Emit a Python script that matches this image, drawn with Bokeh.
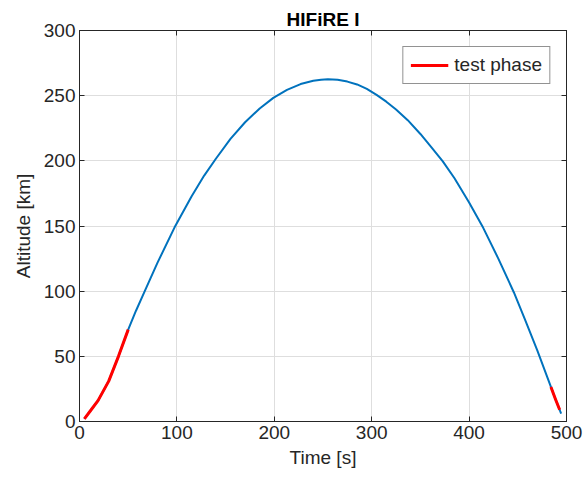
from bokeh.plotting import figure
from bokeh.models import LinearAxis, Range1d, FixedTicker, Legend, LegendItem, BoxAnnotation
from bokeh.embed import file_html
from bokeh.resources import INLINE

# Trajectory
time_s = [5, 12, 19, 30, 40, 50, 58, 67, 80, 97.5, 115, 128, 140, 155, 170, 185, 199,
          213, 227, 240, 248, 255, 265, 275, 285, 295, 305, 315, 325, 337, 350, 362,
          373, 385, 400, 414.5, 430, 446, 457, 470, 484, 489, 494.5]
altitude_km = [2, 9, 16, 31, 50, 70.5, 85, 100, 121.7, 148.8, 172.7, 188.7, 201.6, 216.8,
               229.6, 240.2, 248.3, 254.5, 258.9, 261.5, 262.3, 262.6, 262.2, 260.8, 258.6,
               255.2, 250.6, 245.4, 239.4, 231.2, 220.6, 209.8, 199.6, 186.6, 168.0, 148.6,
               125, 99, 79, 54.5, 26.5, 16.5, 6.0]

# Test phase segments
test_t1 = [5, 12, 19, 30, 40, 50]
test_a1 = [2, 9, 16, 31, 50, 70.5]
test_t2 = [484, 489, 493]
test_a2 = [26.5, 16.5, 9]

x_ticks = [0, 100, 200, 300, 400, 500]
y_ticks = [0, 50, 100, 150, 200, 250, 300]

FONT = "Liberation Sans"
TXT = "#262626"

p = figure(width=587, height=482, output_backend="svg", toolbar_location=None,
           x_range=Range1d(0, 500), y_range=Range1d(0, 300),
           min_border_left=79, min_border_right=21, min_border_top=30, min_border_bottom=61)

p.title.text = "HIFiRE I"
p.title.align = "center"
p.title.text_font = FONT
p.title.text_font_size = "19px"
p.title.text_font_style = "bold"
p.title.text_color = "#000000"
p.title.standoff = 2

p.outline_line_color = TXT
p.outline_line_width = 1
p.outline_line_alpha = 1

for ax, ticks in ((p.xaxis[0], x_ticks), (p.yaxis[0], y_ticks)):
    ax.ticker = FixedTicker(ticks=ticks)
    ax.major_tick_in = 5
    ax.major_tick_out = 0
    ax.minor_tick_in = 0
    ax.minor_tick_out = 0
    ax.axis_line_color = TXT
    ax.major_tick_line_color = TXT
    ax.major_label_text_font = FONT
    ax.major_label_text_font_size = "19px"
    ax.major_label_text_color = TXT
    ax.axis_label_text_font = FONT
    ax.axis_label_text_font_size = "19px"
    ax.axis_label_text_font_style = "normal"
    ax.axis_label_text_color = TXT

p.xaxis[0].axis_label = "Time [s]"
p.yaxis[0].axis_label = "Altitude [km]"
p.xaxis[0].major_label_standoff = 4
p.yaxis[0].major_label_standoff = 4
p.xaxis[0].axis_label_standoff = 5
p.yaxis[0].axis_label_standoff = 7

# box ticks on right and top
for loc, ticks in (("right", y_ticks), ("above", x_ticks)):
    a = LinearAxis(ticker=FixedTicker(ticks=ticks))
    a.major_tick_in = 5
    a.major_tick_out = 0
    a.minor_tick_in = 0
    a.minor_tick_out = 0
    a.axis_line_color = TXT
    a.major_tick_line_color = TXT
    a.major_label_text_font_size = "0px"
    a.major_label_standoff = 0
    p.add_layout(a, loc)

p.xgrid.ticker = FixedTicker(ticks=x_ticks)
p.ygrid.ticker = FixedTicker(ticks=y_ticks)
p.grid.grid_line_color = "#dedede"
p.grid.grid_line_width = 1

# thin slide-edge strip at the far left of the picture
p.add_layout(BoxAnnotation(left=0, right=3, top=70, bottom=408,
                           left_units="canvas", right_units="canvas",
                           top_units="canvas", bottom_units="canvas",
                           fill_color="#8a92b2", fill_alpha=1, line_color=None,
                           editable=False))

p.line(time_s, altitude_km, line_color="#0072BD", line_width=2, line_join="round")
r1 = p.line(test_t1, test_a1, line_color="#FF0000", line_width=3, line_join="round")
p.line(test_t2, test_a2, line_color="#FF0000", line_width=3, line_join="round")

legend = Legend(items=[LegendItem(label="test phase", renderers=[r1])],
                location="top_right")
legend.margin = 16
legend.padding = 7
legend.spacing = 0
legend.glyph_width = 38
legend.label_standoff = 6
legend.label_text_font = FONT
legend.label_text_font_size = "19px"
legend.label_text_color = TXT
legend.border_line_color = TXT
legend.border_line_width = 1
legend.background_fill_alpha = 1
p.add_layout(legend)

open("out.html", "w").write(file_html(p, INLINE))
